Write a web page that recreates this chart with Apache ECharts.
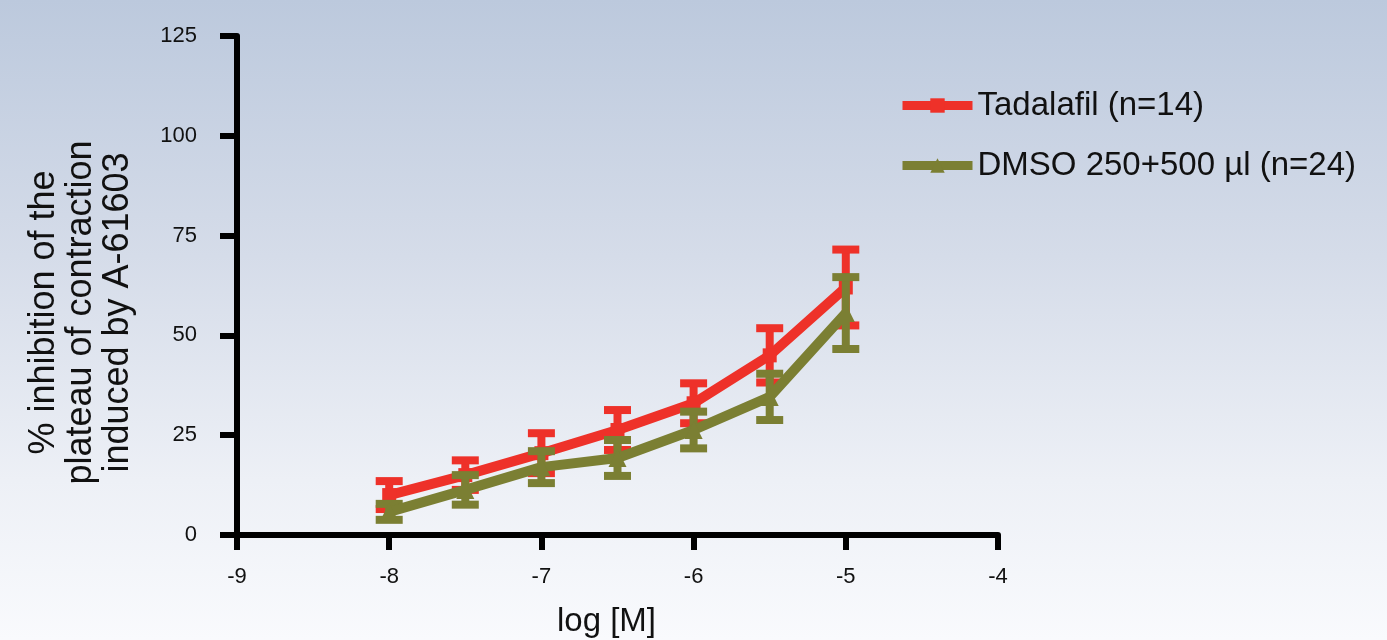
<!DOCTYPE html>
<html>
<head>
<meta charset="utf-8">
<script src="https://cdn.jsdelivr.net/npm/echarts@6/dist/echarts.min.js"></script>
<style>
html,body{margin:0;padding:0;width:1387px;height:640px;overflow:hidden;}
body{background:linear-gradient(to bottom,#bcc9dd 0%,#d5dce9 40%,#edf0f6 75%,#f9fafd 100%);}
#c{width:1387px;height:640px;}
</style>
</head>
<body>
<div id="c"></div>
<script>
const logConc = [-8, -7.5, -7, -6.5, -6, -5.5, -5];
const tadalafilMean = [10, 15, 20.5, 26.3, 33, 45, 62];
const tadalafilErr = [3.5, 3.7, 5, 5, 5, 6.8, 9.5];
const dmsoMean = [5.8, 11.3, 17, 19.3, 26.3, 34.6, 55.6];
const dmsoErr = [2, 3.7, 4, 4.5, 4.6, 5.8, 9];
const yTicks = [0, 25, 50, 75, 100, 125];
const xTicks = [-9, -8, -7, -6, -5, -4];
const seriesNames = ['Tadalafil (n=14)', 'DMSO 250+500 µl (n=24)'];
const RED = '#ee3129';
const OLIVE = '#7b7f33';
const FONT = 'Liberation Sans, Arial, sans-serif';

function pairs(xs, ys) { return xs.map((x, i) => [x, ys[i]]); }
function errData(xs, m, e) { return xs.map((x, i) => [x, m[i] - e[i], m[i] + e[i]]); }

function errRender(color) {
  return function (params, api) {
    const x = api.value(0);
    const lo = api.coord([x, api.value(1)]);
    const hi = api.coord([x, api.value(2)]);
    const hw = 13.5;
    const st = { stroke: color, lineWidth: 8 };
    return {
      type: 'group',
      children: [
        { type: 'line', shape: { x1: lo[0], y1: lo[1], x2: hi[0], y2: hi[1] }, style: st },
        { type: 'line', shape: { x1: lo[0] - hw, y1: lo[1], x2: lo[0] + hw, y2: lo[1] }, style: st },
        { type: 'line', shape: { x1: hi[0] - hw, y1: hi[1], x2: hi[0] + hw, y2: hi[1] }, style: st }
      ]
    };
  };
}

const chart = echarts.init(document.getElementById('c'));
chart.setOption({
  backgroundColor: 'transparent',
  animation: false,
  textStyle: { fontFamily: FONT },
  grid: { left: 237, right: 389, top: 36, bottom: 105, containLabel: false, outerBoundsMode: 'none' },
  legend: {
    orient: 'vertical',
    left: 893,
    top: 84,
    itemGap: 27,
    itemWidth: 70,
    itemHeight: 18,
    lineStyle: { width: 9 },
    textStyle: { fontSize: 33, color: '#111', fontFamily: FONT },
    data: seriesNames
  },
  xAxis: {
    type: 'value',
    min: xTicks[0], max: xTicks[xTicks.length - 1], interval: 1,
    name: 'log [M]',
    nameLocation: 'middle',
    nameGap: 70,
    nameTextStyle: { fontSize: 33, color: '#111', padding: [0, 22, 0, 0] },
    axisLine: { lineStyle: { color: '#000', width: 6 } },
    axisTick: { length: 15, lineStyle: { color: '#000', width: 6 } },
    axisLabel: { fontSize: 22, color: '#111', margin: 31 },
    splitLine: { show: false }
  },
  yAxis: {
    type: 'value',
    min: yTicks[0], max: yTicks[yTicks.length - 1], interval: 25,
    name: '% inhibition of the\nplateau of contraction\ninduced by A-61603',
    nameLocation: 'middle',
    nameGap: 100,
    nameRotate: 90,
    nameTextStyle: { fontSize: 36, color: '#111', lineHeight: 37, padding: [0, 54, 0, 0] },
    axisLine: { show: true, lineStyle: { color: '#000', width: 6 } },
    axisTick: { show: true, length: 17, lineStyle: { color: '#000', width: 6 } },
    axisLabel: { fontSize: 22, color: '#111', margin: 40 },
    splitLine: { show: false }
  },
  series: [
    {
      name: seriesNames[0],
      type: 'line',
      data: pairs(logConc, tadalafilMean),
      symbol: 'rect',
      symbolSize: 14,
      lineStyle: { color: RED, width: 10 },
      itemStyle: { color: RED },
      z: 2
    },
    {
      name: seriesNames[0] + ' err',
      type: 'custom',
      data: errData(logConc, tadalafilMean, tadalafilErr),
      renderItem: errRender(RED),
      encode: { x: 0, y: [1, 2] },
      z: 2
    },
    {
      name: seriesNames[1],
      type: 'line',
      data: pairs(logConc, dmsoMean),
      symbol: 'triangle',
      symbolSize: 18,
      lineStyle: { color: OLIVE, width: 10 },
      itemStyle: { color: OLIVE },
      z: 3
    },
    {
      name: seriesNames[1] + ' err',
      type: 'custom',
      data: errData(logConc, dmsoMean, dmsoErr),
      renderItem: errRender(OLIVE),
      encode: { x: 0, y: [1, 2] },
      z: 3
    }
  ]
});
</script>
</body>
</html>
